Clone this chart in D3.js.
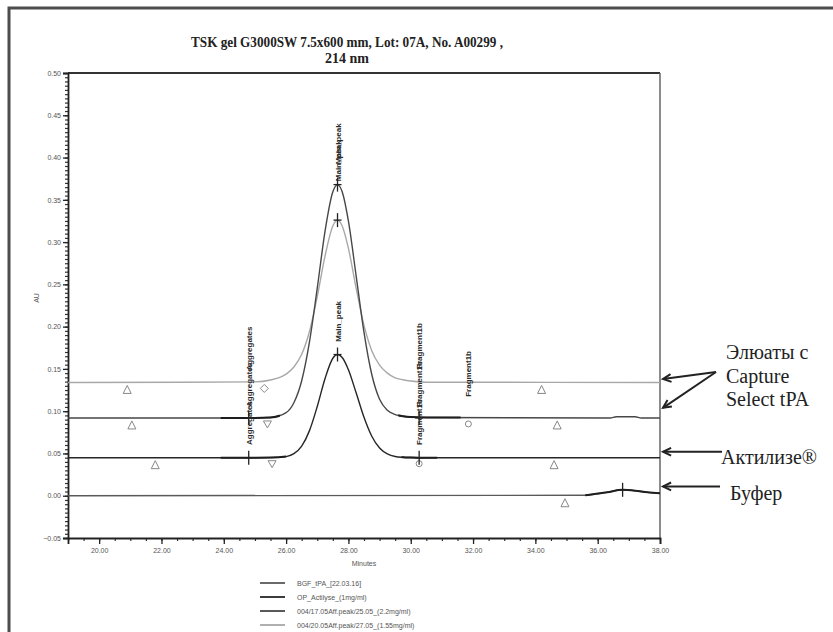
<!DOCTYPE html>
<html><head><meta charset="utf-8">
<script src="https://cdn.jsdelivr.net/npm/d3@7"></script>
<style>body{margin:0;background:#fff}svg{display:block}</style>
</head><body>
<script>
// ---- data ----
const titleLines = ["TSK gel G3000SW 7.5x600 mm, Lot: 07A, No. A00299 ,", "214 nm"];
const xTicks = [20, 22, 24, 26, 28, 30, 32, 34, 36, 38];
const yTicks = [-0.05, 0.00, 0.05, 0.10, 0.15, 0.20, 0.25, 0.30, 0.35, 0.40, 0.45, 0.50];
const seriesNames = ["BGF_tPA_[22.03.16]", "OP_Actilyse_(1mg/ml)", "004/17.05Aff.peak/25.05_(2.2mg/ml)", "004/20.05Aff.peak/27.05_(1.55mg/ml)"];
const seriesColors = ["#5a5a5a", "#262626", "#474747", "#a8a8a8"];

const bufferTime = [19, 35.6, 35.9, 36.3, 36.8, 37.2, 37.6, 38];
const bufferAU   = [0.000, 0.0005, 0.002, 0.004, 0.007, 0.006, 0.004, 0.003];

const actTime = [19, 25.0, 25.5, 26.0, 26.25, 26.5, 26.75, 27.0, 27.25, 27.5, 27.65, 27.8, 28.0, 28.25, 28.5, 28.75, 29.0, 29.25, 29.5, 29.75, 30.0, 30.5, 38];
const actAU   = [0.045, 0.045, 0.0451, 0.0463, 0.0498, 0.0587, 0.077, 0.1056, 0.1387, 0.1626, 0.167, 0.1635, 0.149, 0.1214, 0.0927, 0.0703, 0.0564, 0.0494, 0.0464, 0.0455, 0.0452, 0.045, 0.045];

const elu22Time = [19, 25.0, 25.5, 26.0, 26.25, 26.5, 26.75, 27.0, 27.25, 27.5, 27.65, 27.8, 28.0, 28.25, 28.5, 28.75, 29.0, 29.25, 29.5, 29.75, 30.0, 30.5, 36.4, 36.6, 37.2, 37.4, 38];
const elu22AU   = [0.092, 0.092, 0.0925, 0.0983, 0.110, 0.136, 0.182, 0.2455, 0.313, 0.3595, 0.368, 0.3595, 0.3247, 0.2595, 0.1933, 0.1434, 0.114, 0.101, 0.096, 0.094, 0.093, 0.0925, 0.092, 0.0935, 0.0935, 0.092, 0.092];

const elu155Time = [19, 25.0, 25.5, 26.0, 26.25, 26.5, 26.75, 27.0, 27.25, 27.5, 27.65, 27.8, 28.0, 28.25, 28.5, 28.75, 29.0, 29.25, 29.5, 29.75, 30.0, 30.5, 38];
const elu155AU   = [0.134, 0.1347, 0.1369, 0.1438, 0.1522, 0.1673, 0.1943, 0.2355, 0.2837, 0.319, 0.326, 0.319, 0.2926, 0.245, 0.2014, 0.1716, 0.1545, 0.145, 0.1394, 0.1372, 0.1357, 0.1343, 0.134];

// integration segments (thicker trace parts): start, end, series index
const segStart = [23.9, 29.7, 23.9, 29.6, 35.6];
const segEnd   = [26.0, 30.85, 25.8, 31.6, 38];
const segSeries = [1, 1, 2, 2, 0];

// markers
const triTime = [20.9, 34.2, 21.05, 34.7, 21.8, 34.6, 34.95];
const triAU   = [0.134, 0.134, 0.092, 0.092, 0.045, 0.045, 0.000];
const diaTime = [25.3];
const diaAU   = [0.134];
const invTime = [25.4, 25.55];
const invAU   = [0.092, 0.045];
const circTime = [30.27, 31.85];
const circAU   = [0.045, 0.092];
const crossTime = [24.8, 30.27, 24.8, 30.27, 36.8, 27.65, 27.65, 27.65];
const crossAU   = [0.045, 0.045, 0.092, 0.092, 0.007, 0.167, 0.326, 0.368];

// peak labels (vertical)
const labelText = ["Aggregates", "Aggregates", "Aggregates", "Main_peak", "Main_peak", "Main_peak", "Fragment1b", "Fragment1b", "Fragment1b", "Fragment1b"];
const labelTime = [24.8, 24.8, 24.8, 27.65, 27.65, 27.65, 30.27, 30.27, 30.27, 31.85];
const labelAU   = [0.060, 0.105, 0.148, 0.182, 0.372, 0.392, 0.060, 0.105, 0.150, 0.117];

// annotations at right
const annoText = [["Элюаты с", "Capture", "Select tPA"], ["Актилизе®"], ["Буфер"]];
const annoArrowAU = [[0.138, 0.104], [0.052], [0.011]];

// ---- drawing ----
const W = 833, H = 632;
const svg = d3.select("body").append("svg").attr("width", W).attr("height", H);
svg.append("rect").attr("x", 9).attr("y", 8).attr("width", 900).attr("height", 700)
  .attr("fill", "#fff").attr("stroke", "#4d4d4d").attr("stroke-width", 3);

const x = d3.scaleLinear().domain([19, 38]).range([68, 660]);
const y = d3.scaleLinear().domain([-0.05, 0.50]).range([538, 73]);

// title
svg.append("g").selectAll("text").data(titleLines).join("text")
  .attr("x", 347).attr("y", (d, i) => 47 + i * 16)
  .attr("text-anchor", "middle")
  .attr("font-family", "'Liberation Serif'").attr("font-weight", "bold")
  .attr("font-size", 14).attr("fill", "#222")
  .attr("textLength", (d, i) => i === 0 ? 312 : null)
  .attr("lengthAdjust", "spacingAndGlyphs")
  .text(d => d);

// frame top/right
svg.append("line").attr("x1", 68).attr("x2", 660).attr("y1", 73).attr("y2", 73).attr("stroke", "#333").attr("stroke-width", 2);
svg.append("line").attr("x1", 660).attr("x2", 660).attr("y1", 73).attr("y2", 538).attr("stroke", "#666").attr("stroke-width", 1.5);

// axes
const yMinor = d3.range(-0.05, 0.5001, 0.005);
svg.append("g").attr("transform", "translate(68,0)")
  .call(d3.axisLeft(y).tickValues(yMinor).tickSize(3).tickFormat(""))
  .call(g => g.select(".domain").remove())
  .call(g => g.selectAll("line").attr("stroke", "#333").attr("stroke-width", 1.2));
const yAx = svg.append("g").attr("transform", "translate(68,0)")
  .call(d3.axisLeft(y).tickValues(yTicks).tickSize(5).tickPadding(2).tickFormat(d3.format(".2f")));
yAx.select(".domain").attr("stroke", "#222").attr("stroke-width", 1.8);
yAx.selectAll("line").attr("stroke", "#222").attr("stroke-width", 1.3);
yAx.selectAll("text").attr("font-family", "Liberation Sans, sans-serif").attr("font-size", 7).attr("fill", "#555");

const xMinor = d3.range(19, 38.001, 0.5);
svg.append("g").attr("transform", "translate(0,538)")
  .call(d3.axisBottom(x).tickValues(xMinor).tickSize(3).tickFormat(""))
  .call(g => g.select(".domain").remove())
  .call(g => g.selectAll("line").attr("stroke", "#333").attr("stroke-width", 1.2));
const xAx = svg.append("g").attr("transform", "translate(0,538)")
  .call(d3.axisBottom(x).tickValues(xTicks).tickSize(6).tickPadding(4).tickFormat(d3.format(".2f")));
xAx.select(".domain").attr("stroke", "#222").attr("stroke-width", 1.8);
xAx.selectAll("line").attr("stroke", "#222").attr("stroke-width", 1.3);
xAx.selectAll("text").attr("font-family", "Liberation Sans, sans-serif").attr("font-size", 7).attr("fill", "#555");

svg.append("text").attr("x", 364).attr("y", 566).attr("text-anchor", "middle")
  .attr("font-family", "Liberation Sans, sans-serif").attr("font-size", 7).attr("fill", "#555").text("Minutes");
svg.append("text").attr("transform", "translate(39,298) rotate(-90)").attr("text-anchor", "middle")
  .attr("font-family", "Liberation Sans, sans-serif").attr("font-size", 7).attr("fill", "#555").text("AU");

// traces
const traces = [
  {t: bufferTime, v: bufferAU},
  {t: actTime, v: actAU},
  {t: elu22Time, v: elu22AU},
  {t: elu155Time, v: elu155AU}
];
const line = d3.line().x(d => x(d[0])).y(d => y(d[1])).curve(d3.curveMonotoneX);
const order = [3, 0, 2, 1];
order.forEach(i => {
  const pts = traces[i].t.map((t, k) => [t, traces[i].v[k]]);
  svg.append("path").attr("d", line(pts)).attr("fill", "none")
    .attr("stroke", seriesColors[i]).attr("stroke-width", 1.4);
});
// thicker segments
segStart.forEach((s, k) => {
  const i = segSeries[k];
  const pts = traces[i].t.map((t, j) => [t, traces[i].v[j]]);
  const clipId = "seg" + k;
  svg.append("clipPath").attr("id", clipId).append("rect")
    .attr("x", x(s)).attr("width", x(segEnd[k]) - x(s)).attr("y", 60).attr("height", 500);
  svg.append("path").attr("d", line(pts)).attr("fill", "none").attr("clip-path", `url(#${clipId})`)
    .attr("stroke", "#1e1e1e").attr("stroke-width", 2);
});

// markers
const mk = svg.append("g").attr("fill", "none").attr("stroke", "#888").attr("stroke-width", 1);
triTime.forEach((t, k) => {
  const cx = x(t), cy = y(triAU[k]) + 7;
  mk.append("path").attr("d", `M${cx},${cy - 4}L${cx + 4},${cy + 4}L${cx - 4},${cy + 4}Z`).attr("fill", "#fff");
});
diaTime.forEach((t, k) => {
  const cx = x(t), cy = y(diaAU[k]) + 6;
  mk.append("path").attr("d", `M${cx},${cy - 4}L${cx + 4},${cy}L${cx},${cy + 4}L${cx - 4},${cy}Z`).attr("fill", "#fff");
});
invTime.forEach((t, k) => {
  const cx = x(t), cy = y(invAU[k]) + 6;
  mk.append("path").attr("d", `M${cx - 4},${cy - 3}L${cx + 4},${cy - 3}L${cx},${cy + 4}Z`).attr("fill", "#fff");
});
circTime.forEach((t, k) => {
  mk.append("circle").attr("cx", x(t)).attr("cy", y(circAU[k]) + 6).attr("r", 3).attr("fill", "#fff");
});
const cr = svg.append("g").attr("stroke", "#222").attr("stroke-width", 1.3);
crossTime.forEach((t, k) => {
  const cx = x(t), cy = y(crossAU[k]);
  cr.append("line").attr("x1", cx).attr("x2", cx).attr("y1", cy - 7).attr("y2", cy + 7);
  cr.append("line").attr("x1", cx - 4).attr("x2", cx + 4).attr("y1", cy).attr("y2", cy);
});

// vertical peak labels
labelText.forEach((s, k) => {
  svg.append("text")
    .attr("transform", `translate(${x(labelTime[k]) + 3},${y(labelAU[k])}) rotate(-90)`)
    .attr("font-family", "Liberation Sans, sans-serif").attr("font-weight", "bold")
    .attr("font-size", 8).attr("fill", "#2a2a2a").text(s);
});

// right annotations
const ann = svg.append("g");
const tipX = 663;
const arrowHead = (x1, y1, x2, y2) => {
  const a = Math.atan2(y2 - y1, x2 - x1), L = 9, sp = 0.45;
  return `M${x2 + L * Math.cos(a + Math.PI - sp)},${y2 + L * Math.sin(a + Math.PI - sp)}L${x2},${y2}L${x2 + L * Math.cos(a + Math.PI + sp)},${y2 + L * Math.sin(a + Math.PI + sp)}`;
};
const o1 = [716, 372];
annoArrowAU[0].forEach(v => {
  const ty = y(v);
  ann.append("line").attr("x1", o1[0]).attr("y1", o1[1]).attr("x2", tipX).attr("y2", ty).attr("stroke", "#222").attr("stroke-width", 2);
  ann.append("path").attr("d", arrowHead(o1[0], o1[1], tipX, ty)).attr("fill", "none").attr("stroke", "#222").attr("stroke-width", 2);
});
[1, 2].forEach((g, gi) => {
  const ty = y(annoArrowAU[g][0]);
  const sx = gi === 0 ? 722 : 720;
  ann.append("line").attr("x1", sx).attr("y1", ty).attr("x2", tipX).attr("y2", ty).attr("stroke", "#222").attr("stroke-width", 2);
  ann.append("path").attr("d", arrowHead(sx, ty, tipX, ty)).attr("fill", "none").attr("stroke", "#222").attr("stroke-width", 2);
});
const annFont = s => s.attr("font-family", "'Liberation Serif'").attr("font-size", 20).attr("fill", "#222");
annoText[0].forEach((s, i) => annFont(ann.append("text").attr("x", 726).attr("y", 359 + i * 23.5).text(s)));
annFont(ann.append("text").attr("x", 721).attr("y", 464).text(annoText[1][0]));
annFont(ann.append("text").attr("x", 730).attr("y", 500).text(annoText[2][0]));

// legend
const lg = svg.append("g");
seriesNames.forEach((s, i) => {
  const yy = 583 + i * 14;
  lg.append("line").attr("x1", 260).attr("x2", 285).attr("y1", yy).attr("y2", yy)
    .attr("stroke", seriesColors[i]).attr("stroke-width", 1.8);
  lg.append("text").attr("x", 297).attr("y", yy + 2.5)
    .attr("font-family", "Liberation Sans, sans-serif").attr("font-size", 7).attr("fill", "#555").text(s);
});
</script>
</body></html>
